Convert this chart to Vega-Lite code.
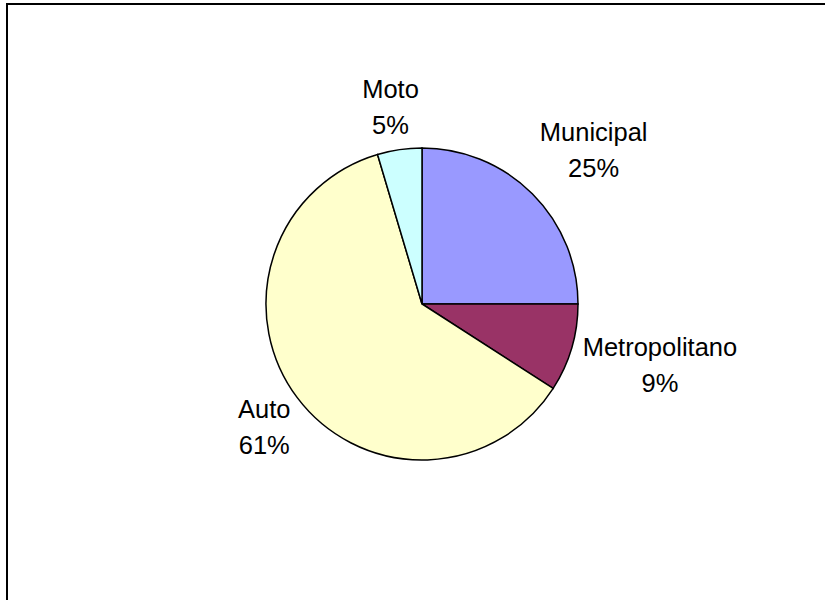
{
  "$schema": "https://vega.github.io/schema/vega-lite/v6.json",
  "width": 830,
  "height": 600,
  "autosize": {"type": "none"},
  "padding": {"left": 7, "top": 4, "right": -12, "bottom": -4},
  "background": "white",
  "config": {
    "view": {"stroke": null},
    "text": {"font": "Liberation Sans", "fontSize": 25.5, "lineHeight": 36, "lineBreak": "\n", "align": "center", "baseline": "middle", "color": "black"}
  },
  "data": {
    "values": [
      {"cat": "Municipal", "value": 25.0, "pct": "25%", "i": 1},
      {"cat": "Metropolitano", "value": 9.1, "pct": "9%", "i": 2},
      {"cat": "Auto", "value": 61.3, "pct": "61%", "i": 3},
      {"cat": "Moto", "value": 4.6, "pct": "5%", "i": 4}
    ]
  },
  "transform": [{"calculate": "datum.cat + '\\n' + datum.pct", "as": "label"}],
  "layer": [
    {
      "data": {"values": [{"frame": 1}]},
      "mark": {"type": "rect", "fill": null, "stroke": "black", "strokeWidth": 2, "strokeDash": [818, 1414, 800, 0]},
      "encoding": {}
    },
    {
      "mark": {"type": "arc", "radius": 156, "stroke": "black", "strokeWidth": 1.5},
      "encoding": {
        "theta": {"field": "value", "type": "quantitative", "stack": true},
        "order": {"field": "i", "type": "quantitative"},
        "color": {
          "field": "cat", "type": "nominal", "legend": null,
          "scale": {"domain": ["Municipal", "Metropolitano", "Auto", "Moto"], "range": ["#9999FF", "#993366", "#FFFFCC", "#CCFFFF"]}
        }
      }
    },
    {
      "mark": {"type": "text", "radius": 198, "dx": -3, "dy": -18},
      "encoding": {
        "theta": {"field": "value", "type": "quantitative", "stack": true},
        "order": {"field": "i", "type": "quantitative"},
        "text": {"condition": {"test": "datum.cat === 'Moto'", "field": "label"}, "value": ""}
      }
    },
    {
      "mark": {"type": "text", "radius": 230, "dx": 9, "dy": -8},
      "encoding": {
        "theta": {"field": "value", "type": "quantitative", "stack": true},
        "order": {"field": "i", "type": "quantitative"},
        "text": {"condition": {"test": "datum.cat === 'Municipal'", "field": "label"}, "value": ""}
      }
    },
    {
      "mark": {"type": "text", "radius": 248, "dy": -26},
      "encoding": {
        "theta": {"field": "value", "type": "quantitative", "stack": true},
        "order": {"field": "i", "type": "quantitative"},
        "text": {"condition": {"test": "datum.cat === 'Metropolitano'", "field": "label"}, "value": ""}
      }
    },
    {
      "mark": {"type": "text", "radius": 201, "dx": 3, "dy": -15},
      "encoding": {
        "theta": {"field": "value", "type": "quantitative", "stack": true},
        "order": {"field": "i", "type": "quantitative"},
        "text": {"condition": {"test": "datum.cat === 'Auto'", "field": "label"}, "value": ""}
      }
    }
  ]
}
